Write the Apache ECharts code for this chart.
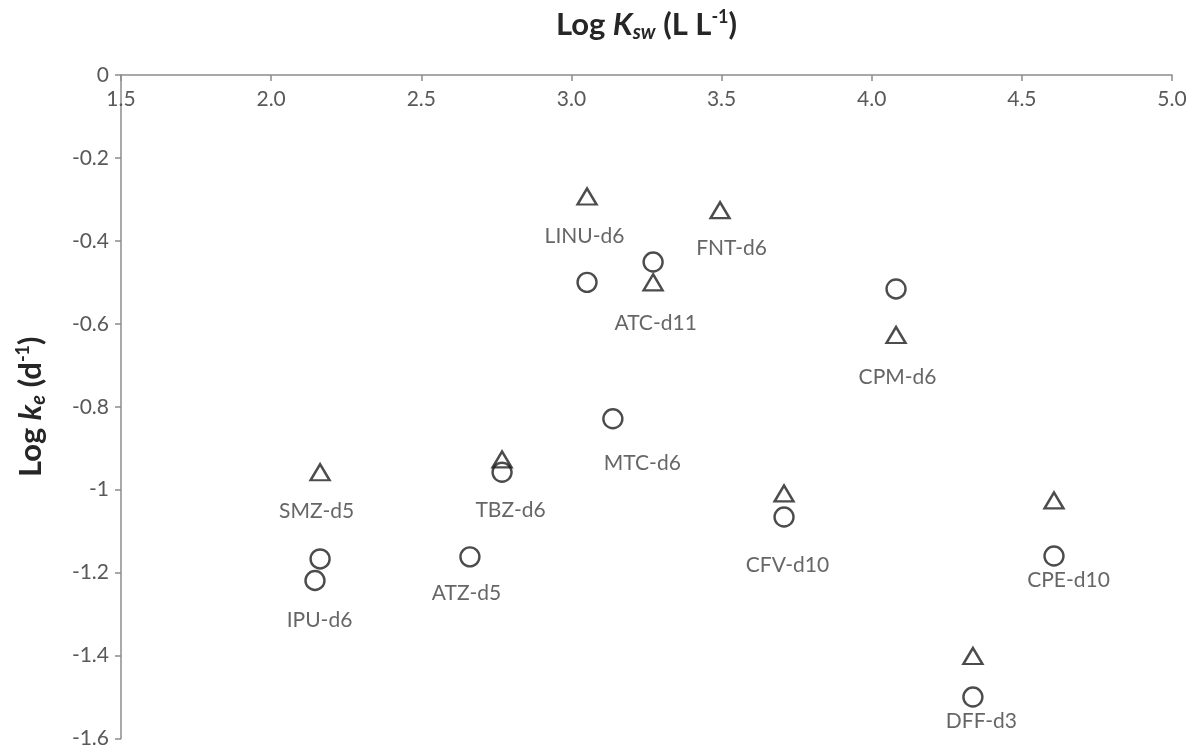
<!DOCTYPE html>
<html>
<head>
<meta charset="utf-8">
<script src="https://cdn.jsdelivr.net/npm/echarts@6/dist/echarts.min.js"></script>
<style>
html,body{margin:0;padding:0;background:#fff;}
#main{width:1192px;height:749px;}
</style>
</head>
<body>
<div id="main"></div>
<script>
// ---- data ----
const xTicks = [1.5, 2.0, 2.5, 3.0, 3.5, 4.0, 4.5, 5.0];
const yTicks = [0, -0.2, -0.4, -0.6, -0.8, -1, -1.2, -1.4, -1.6];

// triangles
const triX = [2.163, 2.769, 3.052, 3.495, 3.272, 4.081, 3.708, 4.607, 4.337];
const triY = [-0.958, -0.927, -0.293, -0.326, -0.500, -0.627, -1.009, -1.026, -1.401];

// circles
const circX = [2.163, 2.146, 2.769, 2.662, 3.052, 3.138, 3.272, 4.081, 3.708, 4.607, 4.337];
const circY = [-1.167, -1.219, -0.958, -1.162, -0.500, -0.829, -0.451, -0.516, -1.066, -1.160, -1.500];

// compound labels
const labelNames = ['SMZ-d5', 'IPU-d6', 'ATZ-d5', 'TBZ-d6', 'LINU-d6', 'MTC-d6',
                    'ATC-d11', 'FNT-d6', 'CPM-d6', 'CFV-d10', 'CPE-d10', 'DFF-d3'];

// ---- layout / style (label anchoring and pixel offsets) ----
const labelPlacement = {
  'SMZ-d5':  {on: 'tri',  i: 0,  dx: -3, dy: 39},
  'IPU-d6':  {on: 'circ', i: 1,  dx: 5,  dy: 40},
  'ATZ-d5':  {on: 'circ', i: 3,  dx: -3, dy: 37},
  'TBZ-d6':  {on: 'circ', i: 2,  dx: 9,  dy: 38},
  'LINU-d6': {on: 'tri',  i: 2,  dx: -2, dy: 40},
  'MTC-d6':  {on: 'circ', i: 5,  dx: 30, dy: 45},
  'ATC-d11': {on: 'tri',  i: 4,  dx: 3,  dy: 41},
  'FNT-d6':  {on: 'tri',  i: 3,  dx: 12, dy: 39},
  'CPM-d6':  {on: 'tri',  i: 5,  dx: 2,  dy: 43},
  'CFV-d10': {on: 'circ', i: 8,  dx: 4,  dy: 49},
  'CPE-d10': {on: 'circ', i: 9,  dx: 15, dy: 25},
  'DFF-d3':  {on: 'circ', i: 10, dx: 9,  dy: 25}
};

const FONT = 'Lato, "Open Sans", sans-serif';
const MARK = '#1f1f1f';
const AXIS = '#8c8c8c';
const TEXT = '#595959';

const triData = triX.map((x, i) => [x, triY[i]]);
const circData = circX.map((x, i) => [x, circY[i]]);
const labelData = labelNames.map(n => {
  const p = labelPlacement[n];
  const src = p.on === 'tri' ? [triX, triY] : [circX, circY];
  return {
    value: [src[0][p.i], src[1][p.i]],
    name: n,
    label: {position: [p.dx, p.dy]}
  };
});

const titleRich = {
  b: {fontFamily: FONT, fontWeight: 'bold', fontSize: 31, color: '#262626', lineHeight: 40, verticalAlign: 'middle'},
  bi: {fontFamily: FONT, fontWeight: 'bold', fontStyle: 'italic', fontSize: 31, color: '#262626', lineHeight: 40, verticalAlign: 'middle'},
  sub: {fontFamily: FONT, fontWeight: 'bold', fontStyle: 'italic', fontSize: 20, color: '#262626', lineHeight: 40, verticalAlign: 'bottom', padding: [0, 0, 2, 0]},
  sup: {fontFamily: FONT, fontWeight: 'bold', fontSize: 18, color: '#262626', lineHeight: 40, verticalAlign: 'top', padding: [3, 0, 0, 0]}
};

const chart = echarts.init(document.getElementById('main'), null, {renderer: 'canvas'});
chart.setOption({
  backgroundColor: '#ffffff',
  animation: false,
  grid: {left: 121, right: 20, top: 60, bottom: 7, containLabel: false},
  xAxis: {
    type: 'value',
    position: 'top',
    min: xTicks[0],
    max: xTicks[xTicks.length - 1],
    interval: 0.5,
    axisLine: {show: true, onZero: false, lineStyle: {color: AXIS, width: 1.5}},
    axisTick: {show: true, inside: true, length: 6, lineStyle: {color: AXIS, width: 1.5}},
    splitLine: {show: false},
    axisLabel: {
      inside: true, margin: 14, color: TEXT, fontFamily: FONT, fontSize: 21,
      formatter: v => v.toFixed(1)
    },
    name: '{b|Log }{bi|K}{sub|sw}{b| (L L}{sup|-1}{b|)}',
    nameLocation: 'middle',
    nameGap: 30,
    nameTextStyle: {rich: titleRich}
  },
  yAxis: {
    type: 'value',
    min: yTicks[yTicks.length - 1],
    max: yTicks[0],
    interval: 0.2,
    axisLine: {show: true, onZero: false, lineStyle: {color: AXIS, width: 1.5}},
    axisTick: {show: true, inside: false, length: 6, lineStyle: {color: AXIS, width: 1.5}},
    splitLine: {show: false},
    axisLabel: {
      margin: 12, color: TEXT, fontFamily: FONT, fontSize: 21,
      formatter: v => String(Math.round(v * 10) / 10)
    },
    name: '{b|Log }{bi|k}{sub|e}{b| (d}{sup|-1}{b|)}',
    nameLocation: 'middle',
    nameGap: 70,
    nameRotate: 90,
    nameTextStyle: {rich: titleRich}
  },
  series: [
    {
      type: 'scatter',
      name: 'triangles',
      data: triData,
      symbol: 'triangle',
      symbolSize: [19, 16],
      itemStyle: {color: 'rgba(255,255,255,0)', borderColor: MARK, borderWidth: 2.4},
      z: 3
    },
    {
      type: 'scatter',
      name: 'circles',
      data: circData,
      symbol: 'circle',
      symbolSize: 19,
      itemStyle: {color: 'rgba(255,255,255,0)', borderColor: MARK, borderWidth: 2.4},
      z: 3
    },
    {
      type: 'scatter',
      name: 'labels',
      data: labelData,
      symbol: 'circle',
      symbolSize: 1,
      itemStyle: {color: 'rgba(255,255,255,0)'},
      label: {
        show: true,
        formatter: p => p.name,
        color: '#404040',
        fontFamily: FONT,
        fontSize: 21,
        align: 'center',
        verticalAlign: 'middle'
      },
      labelLayout: {hideOverlap: false},
      silent: true,
      z: 4
    }
  ]
});
</script>
</body>
</html>
